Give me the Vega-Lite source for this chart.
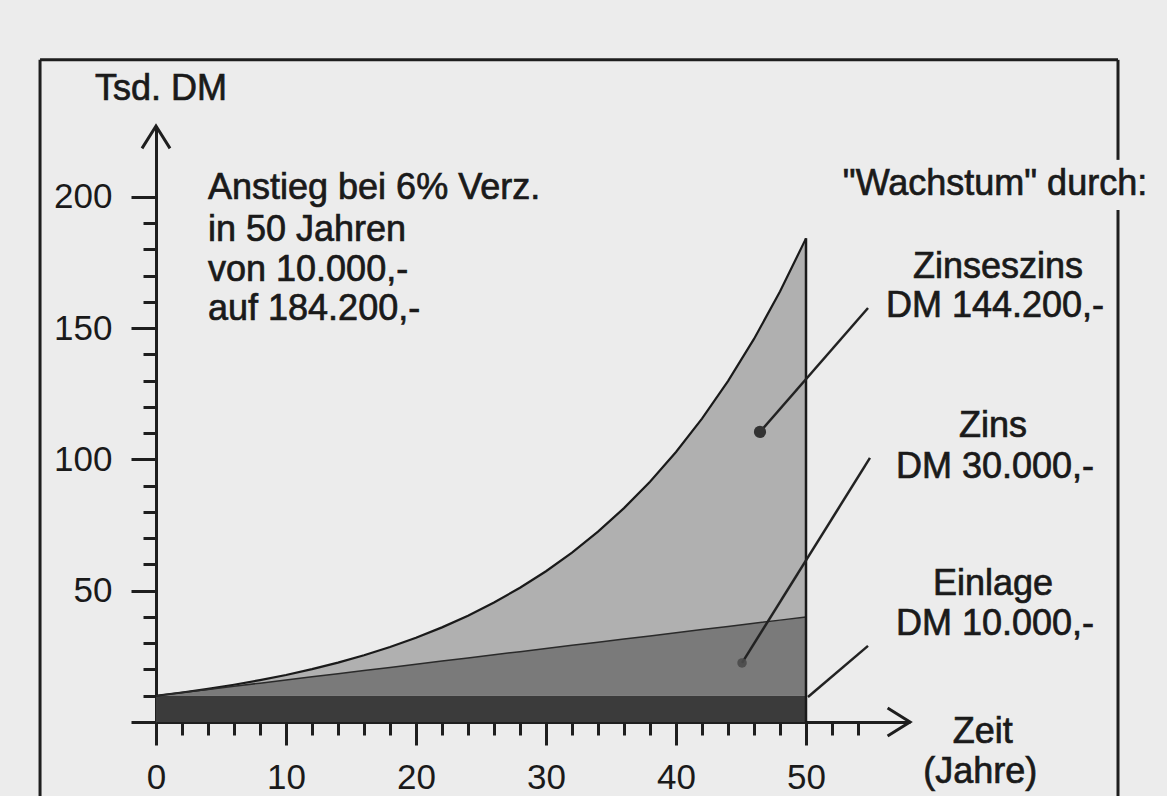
{
  "$schema": "https://vega.github.io/schema/vega-lite/v6.json",
  "width": 754,
  "height": 596,
  "autosize": {"type": "none"},
  "padding": {"left": 156, "top": 126, "right": 257, "bottom": 74},
  "background": "#ececec",
  "config": {
    "view": {"stroke": null},
    "axis": {"grid": false, "domainColor": "#1e1e1e", "tickColor": "#1e1e1e", "labelFont": "Liberation Sans", "labelFontSize": 35, "labelColor": "#1a1a1a", "domainWidth": 3, "tickWidth": 3},
    "text": {"font": "Liberation Sans"}
  },
  "datasets": {
    "main": [
      {"t": 0, "einlage": 10, "zins": 10, "total": 10},
      {"t": 2, "einlage": 10, "zins": 11.2, "total": 11.24},
      {"t": 4, "einlage": 10, "zins": 12.4, "total": 12.62},
      {"t": 6, "einlage": 10, "zins": 13.6, "total": 14.19},
      {"t": 8, "einlage": 10, "zins": 14.8, "total": 15.94},
      {"t": 10, "einlage": 10, "zins": 16, "total": 17.91},
      {"t": 12, "einlage": 10, "zins": 17.2, "total": 20.12},
      {"t": 14, "einlage": 10, "zins": 18.4, "total": 22.61},
      {"t": 16, "einlage": 10, "zins": 19.6, "total": 25.4},
      {"t": 18, "einlage": 10, "zins": 20.8, "total": 28.54},
      {"t": 20, "einlage": 10, "zins": 22, "total": 32.07},
      {"t": 22, "einlage": 10, "zins": 23.2, "total": 36.04},
      {"t": 24, "einlage": 10, "zins": 24.4, "total": 40.49},
      {"t": 26, "einlage": 10, "zins": 25.6, "total": 45.49},
      {"t": 28, "einlage": 10, "zins": 26.8, "total": 51.12},
      {"t": 30, "einlage": 10, "zins": 28, "total": 57.43},
      {"t": 32, "einlage": 10, "zins": 29.2, "total": 64.53},
      {"t": 34, "einlage": 10, "zins": 30.4, "total": 72.51},
      {"t": 36, "einlage": 10, "zins": 31.6, "total": 81.47},
      {"t": 38, "einlage": 10, "zins": 32.8, "total": 91.54},
      {"t": 40, "einlage": 10, "zins": 34, "total": 102.86},
      {"t": 42, "einlage": 10, "zins": 35.2, "total": 115.57},
      {"t": 44, "einlage": 10, "zins": 36.4, "total": 129.85},
      {"t": 46, "einlage": 10, "zins": 37.6, "total": 145.9},
      {"t": 48, "einlage": 10, "zins": 38.8, "total": 163.94},
      {"t": 50, "einlage": 10, "zins": 40, "total": 184.2}
    ],
    "arrows": [
      {"ax": 0, "ay": 227, "dir": "up"},
      {"ax": 58, "ay": 0, "dir": "right"}
    ],
    "leaders": [
      {"x": 54.77, "y": 157.7, "x2": 46.46, "y2": 110.5},
      {"x": 54.92, "y": 100.6, "x2": 45.08, "y2": 22.5},
      {"x": 54.77, "y": 29.0, "x2": 50.15, "y2": 9.5}
    ],
    "dots": [
      {"x": 46.46, "y": 110.5, "name": "Zinseszins"},
      {"x": 45.08, "y": 22.5, "name": "Zins"}
    ],
    "frame": [
      {"x": -8.92, "y": 252.2, "x2": -8.92, "y2": -28.2},
      {"x": -8.92, "y": 252.2, "x2": 74.0, "y2": 252.2},
      {"x": 74.0, "y": 252.2, "x2": 74.0, "y2": 214.1},
      {"x": 74.0, "y": 195.0, "x2": 74.0, "y2": -28.2}
    ],
    "leftText": [
      {"x": -4.69, "y": 236.95, "text": "Tsd. DM"},
      {"x": 4.0, "y": 199.2, "text": "Anstieg bei 6% Verz."},
      {"x": 4.0, "y": 183.2, "text": "in 50 Jahren"},
      {"x": 4.0, "y": 167.9, "text": "von 10.000,-"},
      {"x": 4.0, "y": 153.1, "text": "auf 184.200,-"}
    ],
    "centerText": [
      {"x": 64.54, "y": 200.8, "text": "\"Wachstum\" durch:"},
      {"x": 64.77, "y": 169.1, "text": "Zinseszins"},
      {"x": 64.54, "y": 154.3, "text": "DM 144.200,-"},
      {"x": 64.38, "y": 108.6, "text": "Zins"},
      {"x": 64.54, "y": 93.0, "text": "DM 30.000,-"},
      {"x": 64.38, "y": 48.4, "text": "Einlage"},
      {"x": 64.54, "y": 33.1, "text": "DM 10.000,-"},
      {"x": 63.6, "y": -8.0, "text": "Zeit"},
      {"x": 63.4, "y": -23.2, "text": "(Jahre)"}
    ]
  },
  "layer": [
    {
      "data": {"name": "main"},
      "mark": {"type": "area", "fill": "#b0b0b0"},
      "encoding": {
        "x": {"field": "t", "type": "quantitative", "scale": {"domain": [0, 58], "nice": false, "zero": false},
              "axis": {"values": [0, 10, 20, 30, 40, 50], "tickSize": 23, "labelPadding": 15, "labelBaseline": "top", "title": null, "orient": "bottom", "labelFlush": false, "labelOverlap": false}},
        "y": {"field": "total", "type": "quantitative", "scale": {"domain": [0, 227], "nice": false},
              "axis": {"values": [0, 50, 100, 150, 200], "tickSize": 25, "labelPadding": 19, "title": null, "orient": "left", "labelOverlap": false, "labelExpr": "datum.value == 0 ? '' : datum.label"}},
        "y2": {"field": "zins"}
      }
    },
    {
      "data": {"name": "main"},
      "mark": {"type": "area", "fill": "#7a7a7a"},
      "encoding": {
        "x": {"field": "t", "type": "quantitative", "scale": {"domain": [0, 58], "nice": false, "zero": false},
              "axis": {"values": [2, 4, 6, 8, 12, 14, 16, 18, 22, 24, 26, 28, 32, 34, 36, 38, 42, 44, 46, 48, 52, 54], "tickSize": 13, "labels": false, "domain": false, "title": null, "orient": "bottom"}},
        "y": {"field": "zins", "type": "quantitative", "scale": {"domain": [0, 227], "nice": false},
              "axis": {"values": [10, 20, 30, 40, 60, 70, 80, 90, 110, 120, 130, 140, 160, 170, 180, 190], "tickSize": 13, "labels": false, "domain": false, "title": null, "orient": "left"}},
        "y2": {"field": "einlage"}
      }
    },
    {
      "data": {"name": "main"},
      "mark": {"type": "area", "fill": "#3b3b3b"},
      "encoding": {
        "x": {"field": "t", "type": "quantitative", "scale": {"domain": [0, 58], "nice": false, "zero": false}, "axis": null},
        "y": {"field": "einlage", "type": "quantitative", "scale": {"domain": [0, 227], "nice": false}, "axis": null},
        "y2": {"datum": 0}
      }
    },
    {
      "data": {"name": "main"},
      "mark": {"type": "line", "stroke": "#1a1a1a", "strokeWidth": 2.2},
      "encoding": {
        "x": {"field": "t", "type": "quantitative", "scale": {"domain": [0, 58], "nice": false, "zero": false}, "axis": null},
        "y": {"field": "total", "type": "quantitative", "scale": {"domain": [0, 227], "nice": false}, "axis": null}
      }
    },
    {
      "data": {"name": "main"},
      "mark": {"type": "line", "stroke": "#2a2a2a", "strokeWidth": 1.5},
      "encoding": {
        "x": {"field": "t", "type": "quantitative", "scale": {"domain": [0, 58], "nice": false, "zero": false}, "axis": null},
        "y": {"field": "zins", "type": "quantitative", "scale": {"domain": [0, 227], "nice": false}, "axis": null}
      }
    },
    {
      "data": {"name": "main"},
      "transform": [{"filter": "datum.t == 50"}],
      "mark": {"type": "rule", "stroke": "#1a1a1a", "strokeWidth": 2.5},
      "encoding": {
        "x": {"field": "t", "type": "quantitative", "scale": {"domain": [0, 58], "nice": false, "zero": false}, "axis": null},
        "y": {"field": "total", "type": "quantitative", "scale": {"domain": [0, 227], "nice": false}, "axis": null},
        "y2": {"datum": 0}
      }
    },
    {
      "data": {"name": "arrows"},
      "mark": {"type": "point", "filled": false, "stroke": "#1e1e1e", "strokeWidth": 3, "size": 784, "opacity": 1},
      "encoding": {
        "x": {"field": "ax", "type": "quantitative", "scale": {"domain": [0, 58], "nice": false, "zero": false}, "axis": null},
        "y": {"field": "ay", "type": "quantitative", "scale": {"domain": [0, 227], "nice": false}, "axis": null},
        "shape": {"field": "dir", "type": "nominal", "scale": {"domain": ["up", "right"], "range": ["M-1,1.6L0,0L1,1.6", "M-1.6,-1L0,0L-1.6,1"]}, "legend": null}
      }
    },
    {
      "data": {"name": "leaders"},
      "mark": {"type": "rule", "stroke": "#222222", "strokeWidth": 2.5},
      "encoding": {
        "x": {"field": "x", "type": "quantitative", "scale": {"domain": [0, 58], "nice": false, "zero": false}, "axis": null},
        "y": {"field": "y", "type": "quantitative", "scale": {"domain": [0, 227], "nice": false}, "axis": null},
        "x2": {"field": "x2"},
        "y2": {"field": "y2"}
      }
    },
    {
      "data": {"name": "dots"},
      "transform": [{"filter": "datum.name == 'Zinseszins'"}],
      "mark": {"type": "point", "filled": true, "fill": "#333333", "size": 150, "opacity": 1},
      "encoding": {
        "x": {"field": "x", "type": "quantitative", "scale": {"domain": [0, 58], "nice": false, "zero": false}, "axis": null},
        "y": {"field": "y", "type": "quantitative", "scale": {"domain": [0, 227], "nice": false}, "axis": null}
      }
    },
    {
      "data": {"name": "dots"},
      "transform": [{"filter": "datum.name == 'Zins'"}],
      "mark": {"type": "point", "filled": true, "fill": "#4a4a4a", "size": 90, "opacity": 0.9},
      "encoding": {
        "x": {"field": "x", "type": "quantitative", "scale": {"domain": [0, 58], "nice": false, "zero": false}, "axis": null},
        "y": {"field": "y", "type": "quantitative", "scale": {"domain": [0, 227], "nice": false}, "axis": null}
      }
    },
    {
      "data": {"name": "frame"},
      "mark": {"type": "rule", "stroke": "#1e1e1e", "strokeWidth": 3},
      "encoding": {
        "x": {"field": "x", "type": "quantitative", "scale": {"domain": [0, 58], "nice": false, "zero": false}, "axis": null},
        "y": {"field": "y", "type": "quantitative", "scale": {"domain": [0, 227], "nice": false}, "axis": null},
        "x2": {"field": "x2"},
        "y2": {"field": "y2"}
      }
    },
    {
      "data": {"name": "leftText"},
      "mark": {"type": "text", "align": "left", "baseline": "alphabetic", "fontSize": 36, "fill": "#1a1a1a", "stroke": "#1a1a1a", "strokeWidth": 0.7, "font": "Liberation Sans"},
      "encoding": {
        "x": {"field": "x", "type": "quantitative", "scale": {"domain": [0, 58], "nice": false, "zero": false}, "axis": null},
        "y": {"field": "y", "type": "quantitative", "scale": {"domain": [0, 227], "nice": false}, "axis": null},
        "text": {"field": "text"}
      }
    },
    {
      "data": {"name": "centerText"},
      "mark": {"type": "text", "align": "center", "baseline": "alphabetic", "fontSize": 36, "fill": "#1a1a1a", "stroke": "#1a1a1a", "strokeWidth": 0.7, "font": "Liberation Sans"},
      "encoding": {
        "x": {"field": "x", "type": "quantitative", "scale": {"domain": [0, 58], "nice": false, "zero": false}, "axis": null},
        "y": {"field": "y", "type": "quantitative", "scale": {"domain": [0, 227], "nice": false}, "axis": null},
        "text": {"field": "text"}
      }
    }
  ],
  "resolve": {"axis": {"x": "independent", "y": "independent"}}
}
